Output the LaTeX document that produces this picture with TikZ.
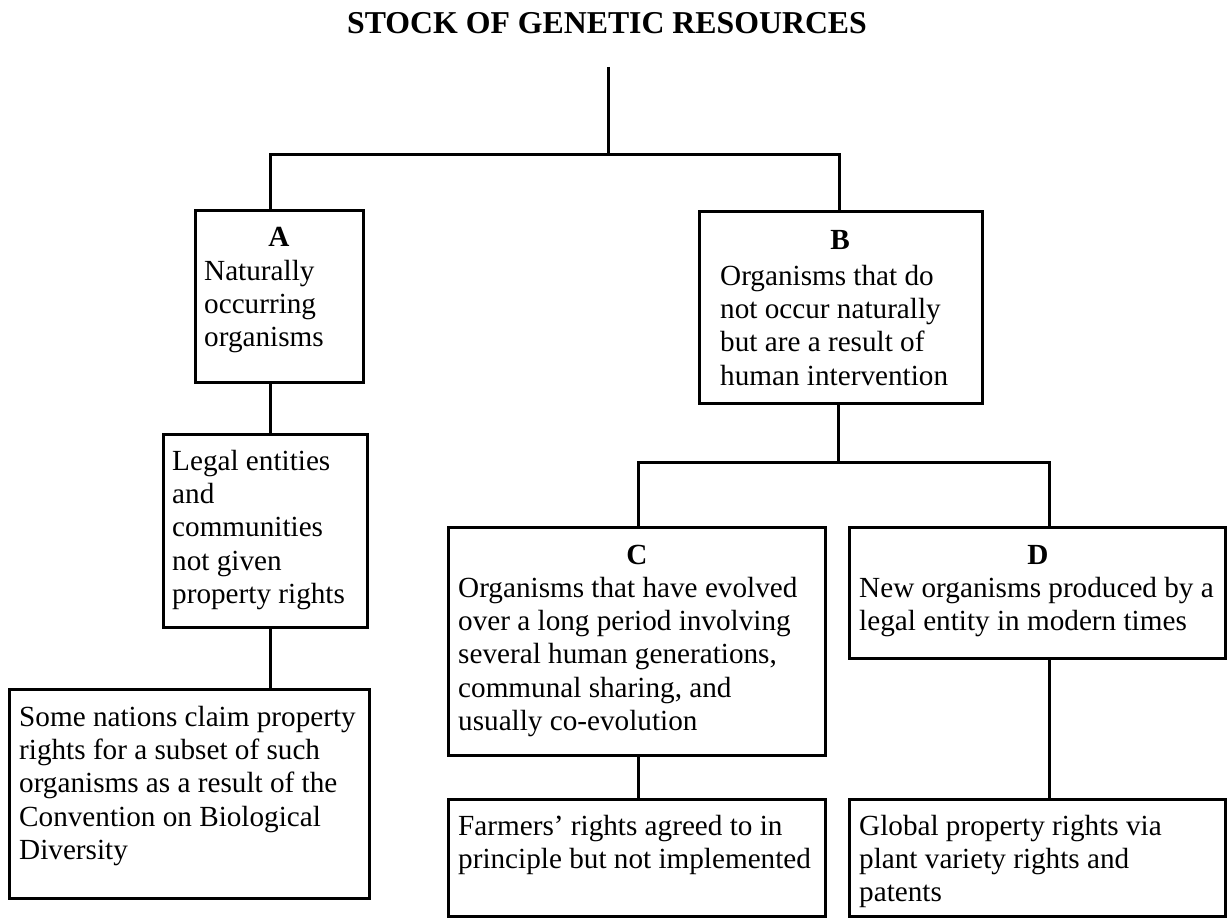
\documentclass[tikz,border=0pt]{standalone}
\usepackage{fontspec}
\setmainfont{Liberation Serif}
\newcommand\mystrut{\rule{0pt}{24pt}}
\begin{document}
\begin{tikzpicture}[x=1pt,y=-1pt,
  lw/.style={line width=3pt},
  box/.style={draw, lw, inner sep=0pt, outer sep=0pt, rectangle},
  txt/.style={anchor=north west, inner sep=0pt, align=left,
    font=\fontsize{29.2}{33.3}\selectfont},
  letter/.style={anchor=base, inner sep=0pt, font=\fontsize{29.2}{33.3}\selectfont\bfseries},
  conn/.style={lw}]
\useasboundingbox (0,0) rectangle (1227,920);
% title
\node[anchor=base, inner sep=0pt, font=\fontsize{31.8}{36}\selectfont\bfseries] (title) at (607,34) {STOCK OF GENETIC RESOURCES};
% boxes
\node[box, minimum width=168pt, minimum height=171pt] (A) at (279,296.5) {};
\node[box, minimum width=283pt, minimum height=191pt] (B) at (840.5,307.5) {};
\node[box, minimum width=204pt, minimum height=193pt] (L) at (265,530.5) {};
\node[box, minimum width=360pt, minimum height=209pt] (S) at (189,793.5) {};
\node[box, minimum width=377pt, minimum height=228pt] (C) at (636.5,641) {};
\node[box, minimum width=376pt, minimum height=131pt] (D) at (1037,592.5) {};
\node[box, minimum width=377pt, minimum height=117pt] (F) at (636.5,858) {};
\node[box, minimum width=376pt, minimum height=117pt] (G) at (1037,858) {};
% letters
\node[letter] (lA) at (279,247) {A};
\node[letter] (lB) at (840,250) {B};
\node[letter] (lC) at (637,564) {C};
\node[letter] (lD) at (1038,564) {D};
% texts
\node[txt] (tA) at (204,256) {\mystrut Naturally\\occurring\\organisms};
\node[txt] (tB) at (720,261) {\mystrut Organisms that do\\not occur naturally\\but are a result of\\human intervention};
\node[txt] (tL) at (172,446) {\mystrut Legal entities\\and\\communities\\not given\\property rights};
\node[txt] (tS) at (19,702) {\mystrut Some nations claim property\\rights for a subset of such\\organisms as a result of the\\Convention on Biological\\Diversity};
\node[txt] (tC) at (458,573) {\mystrut Organisms that have evolved\\over a long period involving\\several human generations,\\communal sharing, and\\usually co-evolution};
\node[txt] (tD) at (859,573) {\mystrut New organisms produced by a\\legal entity in modern times};
\node[txt] (tF) at (458,811) {\mystrut Farmers’ rights agreed to in\\principle but not implemented};
\node[txt] (tG) at (859,811) {\mystrut Global property rights via\\plant variety rights and\\patents};
% junction coordinates
\coordinate (top) at (608,67);
\coordinate (j0) at (608,155);
\coordinate (jA) at (270,155);
\coordinate (jB) at (839,155);
\coordinate (jBC) at (838,462);
\coordinate (jC) at (638,462);
\coordinate (jD) at (1049,462);
% connectors
\draw[conn] (top) -- (j0);
\draw[conn, line cap=rect] (jA) -- (jB);
\draw[conn] (jA) -- (jA |- A.north);
\draw[conn] (jB) -- (jB |- B.north);
\draw[conn] (jA |- A.south) -- (jA |- L.north);
\draw[conn] (jA |- L.south) -- (jA |- S.north);
\draw[conn] (jBC |- B.south) -- (jBC);
\draw[conn, line cap=rect] (jC) -- (jD);
\draw[conn] (jC) -- (jC |- C.north);
\draw[conn] (jD) -- (jD |- D.north);
\draw[conn] (jC |- C.south) -- (jC |- F.north);
\draw[conn] (jD |- D.south) -- (jD |- G.north);
\end{tikzpicture}
\end{document}
